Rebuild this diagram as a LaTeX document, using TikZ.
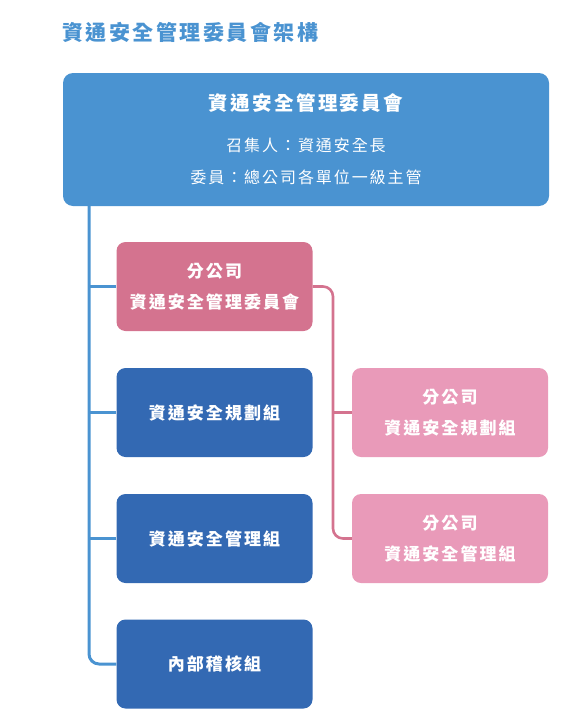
\documentclass[tikz,border=0pt]{standalone}
\usepackage{fontspec}
\setmainfont{Noto Sans CJK TC}[LetterSpace=12]
\usepackage{tikz}
\definecolor{topBlue}{HTML}{4A93D1}
\definecolor{darkBlue}{HTML}{3369B3}
\definecolor{rosePink}{HTML}{D4738F}
\definecolor{lightPink}{HTML}{E99AB9}
\tikzstyle{labeledBig}=[shape = rectangle, rounded corners = 10pt, fill = topBlue, text = white, minimum width = 486pt, minimum height = 133pt, align = center, font = \fontsize{16}{32}\selectfont]
\tikzstyle{labeledBox}=[shape = rectangle, rounded corners = 9pt, text = white, minimum width = 196pt, minimum height = 89pt, align = center, font = \fontsize{17}{31}\selectfont\bfseries]

\begin{document}
\begin{tikzpicture}[x = 1pt, y = -1pt]
\tikzstyle{blueEdge}=[draw = topBlue, line width = 3pt, rounded corners = 10pt]
\tikzstyle{pinkEdge}=[draw = rosePink, line width = 2.6pt, rounded corners = 10pt]
\useasboundingbox (0,0) rectangle (586,728);
\node[anchor = west, inner sep = 0pt, text = topBlue, font = \fontsize{21}{24}\selectfont\bfseries] (t0) at (62,32) {資通安全管理委員會架構};
\node[style = labeledBig] (v0) at (306,139.5) {{\fontsize{19.5}{22}\selectfont\bfseries 資通安全管理委員會}\\[9pt]召集人：資通安全長\\委員：總公司各單位一級主管};
\node[style = labeledBox, fill = rosePink] (v1) at (214.5,286.5) {分公司\\資通安全管理委員會};
\node[style = labeledBox, fill = darkBlue] (v2) at (214.5,412.5) {資通安全規劃組};
\node[style = labeledBox, fill = darkBlue] (v3) at (214.5,538.5) {資通安全管理組};
\node[style = labeledBox, fill = darkBlue] (v4) at (214.5,664) {內部稽核組};
\node[style = labeledBox, fill = lightPink] (v5) at (450,412.5) {分公司\\資通安全規劃組};
\node[style = labeledBox, fill = lightPink] (v6) at (450,538.5) {分公司\\資通安全管理組};
\coordinate (c0) at (89,206);
\coordinate (c1) at (333,0);
\draw[style = blueEdge] (c0) |- (v4.west);
\draw[style = blueEdge] (v1.west) -- (v1.west -| c0);
\draw[style = blueEdge] (v2.west) -- (v2.west -| c0);
\draw[style = blueEdge] (v3.west) -- (v3.west -| c0);
\draw[style = pinkEdge] (v1.east) -- (v1.east -| c1) |- (v6.west);
\draw[style = pinkEdge] (v5.west) -- (v5.west -| c1);
\end{tikzpicture}
\end{document}
